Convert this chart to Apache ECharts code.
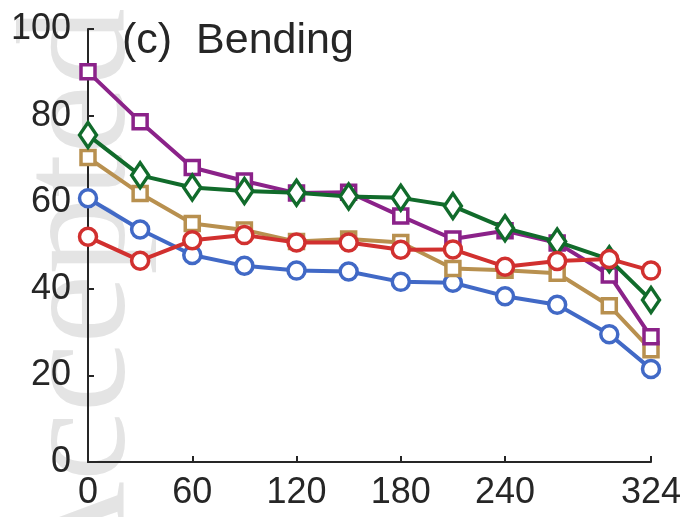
<!DOCTYPE html>
<html>
<head>
<meta charset="utf-8">
<script src="https://cdn.jsdelivr.net/npm/echarts@6/dist/echarts.min.js"></script>
<style>
html,body{margin:0;padding:0;background:#fff;}
#c{width:686px;height:517px;}
</style>
</head>
<body>
<div id="c"></div>
<script>
var angles = [0, 30, 60, 90, 120, 150, 180, 210, 240, 270, 300, 324];
var xTicks = [0, 60, 120, 180, 240, 324];
var yTicks = [0, 20, 40, 60, 80, 100];
var blueVals   = [60.9, 53.7, 47.8, 45.3, 44.2, 44.0, 41.6, 41.4, 38.3, 36.3, 29.5, 21.5];
var goldVals   = [70.3, 62.0, 55.1, 53.6, 50.9, 51.5, 50.7, 44.7, 44.3, 43.6, 36.1, 25.9];
var purpleVals = [90.1, 78.6, 68.0, 64.9, 62.1, 62.3, 56.8, 51.5, 53.4, 50.6, 43.2, 28.9];
var greenVals  = [75.5, 66.2, 63.4, 62.6, 62.2, 61.3, 61.0, 59.1, 54.0, 50.9, 46.8, 37.4];
var redVals    = [52.0, 46.5, 51.2, 52.4, 50.7, 50.7, 49.0, 49.1, 45.1, 46.4, 46.9, 44.2];
var titleText = '(c)  Bending';
var watermark = 'Accepted';

function pairs(vals){ return angles.map(function(a,i){ return [a, vals[i]]; }); }

var ink = '#262626';
function mk(vals, color, symbol, size, z){
  return {
    type:'line', data:pairs(vals), z:z,
    symbol:symbol, symbolSize:size, showAllSymbol:true,
    lineStyle:{color:color, width:4},
    itemStyle:{color:'#fff', borderColor:color, borderWidth:3.5},
    emphasis:{disabled:true},
    animation:false
  };
}

var chart = echarts.init(document.getElementById('c'), null, {renderer:'canvas'});
chart.setOption({
  animation:false,
  graphic:[
    {type:'text', z:-10, silent:true, x:160, y:8, rotation:Math.PI/2,
     style:{text:watermark, x:0, y:0, align:'right', verticalAlign:'bottom',
            fill:'#e4e4e4', font:'155px "Liberation Serif"'}}
  ],
  title:{text:titleText, left:117, top:15,
    textStyle:{fontFamily:'Liberation Sans', fontSize:43, fontWeight:'normal', color:ink}},
  grid:{left:88, right:35, top:29, bottom:55, containLabel:false},
  xAxis:{type:'value', min:0, max:324,
    axisLine:{show:true, lineStyle:{color:ink, width:2}},
    axisTick:{show:true, inside:true, length:6, customValues:xTicks, lineStyle:{color:ink, width:2}},
    axisLabel:{customValues:xTicks, margin:13, fontFamily:'Liberation Sans', fontSize:36, color:ink},
    splitLine:{show:false}},
  yAxis:{type:'value', min:0, max:100, interval:20,
    axisLine:{show:true, lineStyle:{color:ink, width:2}},
    axisTick:{show:true, inside:true, length:6, lineStyle:{color:ink, width:2}},
    axisLabel:{margin:17, fontFamily:'Liberation Sans', fontSize:36, color:ink},
    splitLine:{show:false}},
  series:[
    mk(blueVals, '#4169C6', 'circle', 17, 2),
    mk(goldVals, '#B8904F', 'rect', 14, 3),
    mk(purpleVals, '#8B2289', 'rect', 14, 4),
    mk(greenVals, '#116B2B', 'diamond', [17,25], 5),
    mk(redVals, '#D1302F', 'circle', 17, 6)
  ]
});
</script>
</body>
</html>
